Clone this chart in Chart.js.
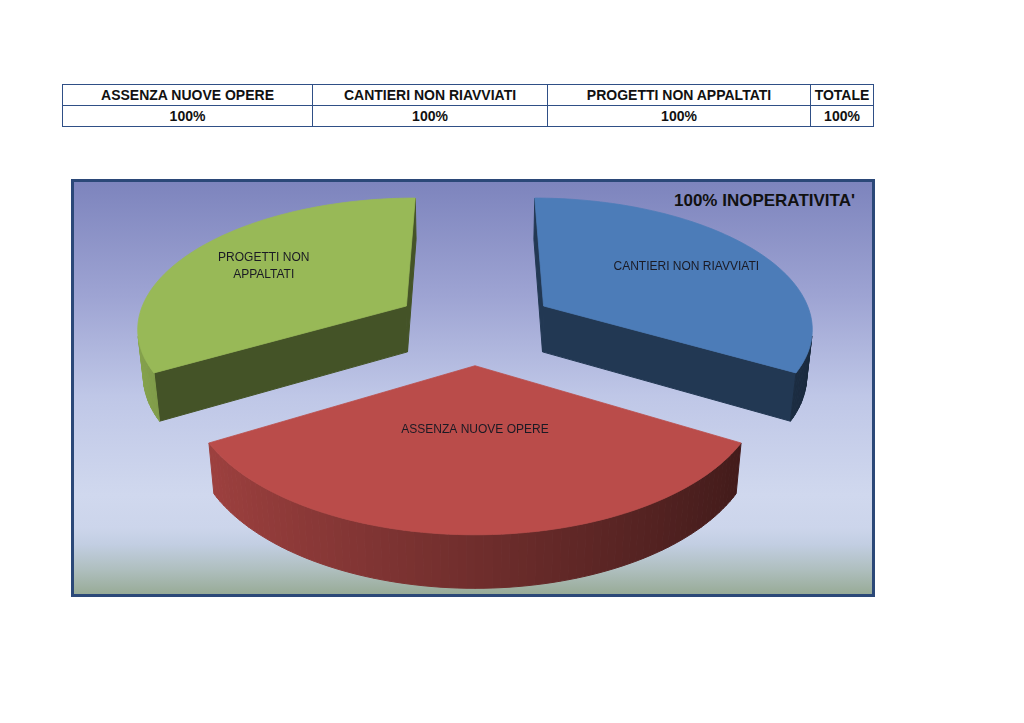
<!DOCTYPE html>
<html><head><meta charset="utf-8">
<script src="https://cdn.jsdelivr.net/npm/chart.js@4.4.1/dist/chart.umd.min.js"></script>
<style>
html,body{margin:0;padding:0;background:#fff;width:1024px;height:723px;overflow:hidden;}
#tbl{position:absolute;left:62px;top:84px;border-collapse:collapse;table-layout:fixed;width:811px;
  font-family:'Liberation Sans Narrow','Liberation Sans',sans-serif;font-weight:bold;font-size:14px;color:#111;}
#tbl td{border:1px solid #2f4f86;text-align:center;height:20px;padding:0;line-height:20px;white-space:nowrap;overflow:hidden;}
#frame{position:absolute;left:71px;top:179px;width:804px;height:418px;box-sizing:border-box;border:3px solid #2b4878;
  background:linear-gradient(to bottom,#7d84bd 0%,#9ea4d3 28%,#bfc7e7 52%,#d0d8ee 76%,#ccd5eb 84%,#c2cee2 88%,#afbfbf 94%,#98ab97 100%);}
#title{position:absolute;right:169px;top:190px;font-family:'Liberation Sans Narrow','Liberation Sans',sans-serif;font-weight:bold;font-size:17px;line-height:22px;color:#111;white-space:nowrap;}
#c{position:absolute;left:0;top:0;}
</style></head>
<body>
<table id="tbl"><colgroup><col style="width:250px"><col style="width:235px"><col style="width:263px"><col style="width:63px"></colgroup>
<tbody><tr id="hdr"></tr><tr id="val"></tr></tbody></table>
<div id="frame"></div>
<div id="title"></div>
<canvas id="c" width="1024" height="723"></canvas>
<script>
// ---- data ----
const categories = ['ASSENZA NUOVE OPERE', 'CANTIERI NON RIAVVIATI', 'PROGETTI NON APPALTATI'];
const sharePct = [100, 100, 100];
const totalLabel = 'TOTALE';
const totalPct = 100;
const chartTitle = "100% INOPERATIVITA'";
const sliceColors = ['#ba4c4a', '#4c7cb8', '#98b957'];
// clockwise order of slices starting from the back edge
const pieOrder = [1, 0, 2];

// ---- table ----
const hdr = document.getElementById('hdr'), val = document.getElementById('val');
[...categories, totalLabel].forEach(t => { const td = document.createElement('td'); td.textContent = t; hdr.appendChild(td); });
[...sharePct, totalPct].forEach(v => { const td = document.createElement('td'); td.textContent = v + '%'; val.appendChild(td); });
document.getElementById('title').textContent = chartTitle;

// ---- 3D style ----
const CAM_D = 5.79, SIN_T = 0.48, COS_T = 0.877;
const EXPLODE = 0.3, THICK = 0.2;
const LABEL_FONT = "12px 'Liberation Sans Narrow','Liberation Sans',sans-serif";

function shade(hex, f) {
  const n = parseInt(hex.slice(1), 16);
  const c = [(n >> 16) & 255, (n >> 8) & 255, n & 255].map(v => Math.max(0, Math.min(255, Math.round(v * f))));
  return 'rgb(' + c.join(',') + ')';
}

const pie3d = {
  id: 'pie3d',
  beforeDatasetsDraw(chart) {
    const ctx = chart.ctx;
    const meta = chart.getDatasetMeta(0);
    const colors = chart.data.datasets[0].backgroundColor;
    const labels = chart.data.labels;
    const slices = meta.data.map((arc, i) => {
      const mid = (arc.startAngle + arc.endAngle) / 2;
      return { arc, i, mid, au: EXPLODE * Math.cos(mid), av: -EXPLODE * Math.sin(mid) };
    });
    slices.sort((a, b) => b.av - a.av);
    const camV = -CAM_D * COS_T;
    ctx.save();
    for (const s of slices) {
      const { x: cx, y: cy, outerRadius: R, startAngle: a0, endAngle: a1 } = s.arc;
      const F = CAM_D * R;
      const P = (U, V, H) => { const Z = CAM_D + V * COS_T - H * SIN_T; return [cx + F * U / Z, cy - F * (V * SIN_T + H * COS_T) / Z]; };
      const N = Math.max(8, Math.ceil((a1 - a0) / (Math.PI / 120)));
      const pts = [];
      for (let k = 0; k <= N; k++) { const a = a0 + (a1 - a0) * k / N; pts.push([s.au + Math.cos(a), s.av - Math.sin(a)]); }
      const col = colors[s.i];
      const vis = (pu, pv, nu, nv) => (0 - pu) * nu + (camV - pv) * nv > 0;
      const quad = (p, q, fill) => {
        const A = P(p[0], p[1], 0), B = P(q[0], q[1], 0), C = P(q[0], q[1], -THICK), D = P(p[0], p[1], -THICK);
        ctx.beginPath(); ctx.moveTo(A[0], A[1]); ctx.lineTo(B[0], B[1]); ctx.lineTo(C[0], C[1]); ctx.lineTo(D[0], D[1]); ctx.closePath();
        ctx.fillStyle = fill; ctx.strokeStyle = fill; ctx.lineWidth = 1; ctx.fill(); ctx.stroke();
      };
      const apex = [s.au, s.av];
      // cut faces
      const cuts = [[pts[0], a0 - Math.PI / 2], [pts[N], a1 + Math.PI / 2]];
      for (const [p, na] of cuts) {
        const nu = Math.cos(na), nv = -Math.sin(na);
        if (vis((apex[0] + p[0]) / 2, (apex[1] + p[1]) / 2, nu, nv)) quad(apex, p, shade(col, 0.45));
      }
      // curved side
      for (let k = 0; k < N; k++) {
        const am = a0 + (a1 - a0) * (k + 0.5) / N;
        const nu = Math.cos(am), nv = -Math.sin(am);
        const mu = (pts[k][0] + pts[k + 1][0]) / 2, mv = (pts[k][1] + pts[k + 1][1]) / 2;
        if (vis(mu, mv, nu, nv)) quad(pts[k], pts[k + 1], shade(col, 0.6 - 0.28 * Math.cos(am)));
      }
      // top face
      ctx.beginPath();
      let q = P(apex[0], apex[1], 0); ctx.moveTo(q[0], q[1]);
      for (const p of pts) { q = P(p[0], p[1], 0); ctx.lineTo(q[0], q[1]); }
      ctx.closePath();
      ctx.fillStyle = col; ctx.strokeStyle = col; ctx.lineWidth = 0.8; ctx.fill(); ctx.stroke();
      // label anchor
      const far = -Math.sin(s.mid);
      const t = 0.42 + 0.5 * Math.max(0, far);
      s.labelPos = P(s.au + t * Math.cos(s.mid), s.av - t * Math.sin(s.mid), 0);
      s.R = R;
    }
    ctx.font = LABEL_FONT; ctx.fillStyle = '#1a1a24'; ctx.textAlign = 'center'; ctx.textBaseline = 'middle';
    for (const s of slices) {
      const words = String(labels[s.i]).split(' ');
      const maxW = 0.57 * s.R;
      const lines = []; let cur = '';
      for (const w of words) {
        const tryL = cur ? cur + ' ' + w : w;
        if (cur && ctx.measureText(tryL).width > maxW) { lines.push(cur); cur = w; } else cur = tryL;
      }
      lines.push(cur);
      const lh = 17;
      lines.forEach((ln, j) => ctx.fillText(ln, s.labelPos[0], s.labelPos[1] + (j - (lines.length - 1) / 2) * lh));
    }
    ctx.restore();
    return false;
  }
};

new Chart(document.getElementById('c'), {
  type: 'pie',
  data: {
    labels: pieOrder.map(i => categories[i]),
    datasets: [{ data: pieOrder.map(i => sharePct[i]), backgroundColor: pieOrder.map(i => sliceColors[i]), borderWidth: 0 }]
  },
  options: {
    responsive: false, animation: false, devicePixelRatio: 1, events: [],
    rotation: 0, radius: 270,
    layout: { padding: { left: 0, right: 74, top: 0, bottom: 73 } },
    plugins: { legend: { display: false }, tooltip: { enabled: false }, title: { display: false } }
  },
  plugins: [pie3d]
});
</script>
</body></html>
